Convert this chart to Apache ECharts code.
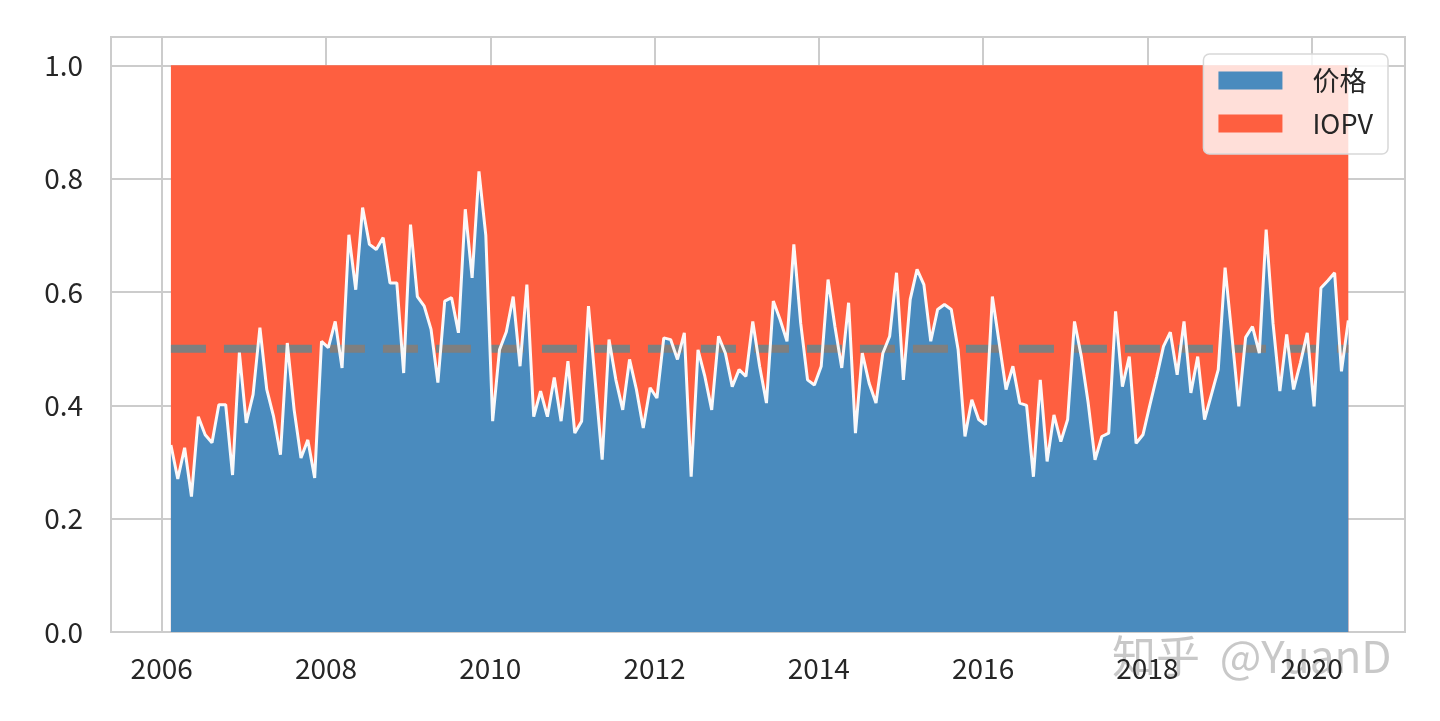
<!DOCTYPE html>
<html>
<head>
<meta charset="utf-8">
<script src="https://cdn.jsdelivr.net/npm/echarts@6/dist/echarts.min.js"></script>
<style>html,body{margin:0;padding:0;background:#fff}#c{width:1440px;height:721px}</style>
</head>
<body>
<div id="c"></div>
<script>
// monthly series, first month = 2006-02
const startYear = 2006;
const startMonth = 2;
// share of 价格 (blue band); IOPV share is the remainder up to 1.0
const price = [
  0.33, 0.27, 0.325, 0.239, 0.380, 0.348, 0.334, 0.401, 0.401, 0.277, 0.493, 0.369, 0.419, 0.537, 0.428, 0.380,
  0.313, 0.510, 0.392, 0.307, 0.339, 0.272, 0.513, 0.502, 0.548, 0.466, 0.701, 0.604, 0.749, 0.684, 0.675,
  0.696, 0.616, 0.616, 0.457, 0.719, 0.592, 0.575, 0.534, 0.440, 0.584, 0.590, 0.528, 0.746, 0.625, 0.813, 0.70,
  0.372, 0.498, 0.53, 0.592, 0.469, 0.613, 0.380, 0.425, 0.380, 0.449, 0.372, 0.478, 0.351, 0.372, 0.575,
  0.44, 0.304, 0.516, 0.445, 0.392, 0.481, 0.428, 0.360, 0.431, 0.413, 0.519, 0.516, 0.481, 0.528, 0.274, 0.498,
  0.451, 0.392, 0.522, 0.492, 0.433, 0.463, 0.451, 0.548, 0.469, 0.404, 0.584, 0.551, 0.513, 0.684, 0.545,
  0.445, 0.436, 0.469, 0.622, 0.539, 0.466, 0.581, 0.351, 0.492, 0.439, 0.404, 0.492, 0.522, 0.634, 0.445, 0.587,
  0.640, 0.613, 0.513, 0.569, 0.578, 0.569, 0.498, 0.345, 0.410, 0.375, 0.366, 0.592, 0.510, 0.428, 0.469,
  0.404, 0.40, 0.274, 0.445, 0.301, 0.383, 0.336, 0.375, 0.548, 0.486, 0.404, 0.304, 0.345, 0.351, 0.566, 0.433,
  0.486, 0.333, 0.348, 0.40, 0.45, 0.504, 0.529, 0.454, 0.548, 0.422, 0.486, 0.375, 0.419, 0.463,
  0.643, 0.522, 0.398, 0.52, 0.539, 0.492, 0.710, 0.545, 0.425, 0.525, 0.428, 0.475, 0.528, 0.398, 0.607, 0.62,
  0.634, 0.460, 0.55
];
const total = 1.0;
const xTickYears = [2006, 2008, 2010, 2012, 2014, 2016, 2018, 2020];
const refLevel = 0.5;
const seriesNames = ['价格', 'IOPV'];
const watermark = '知乎  @YuanD';

const BLUE = '#4a8bbe';
const RED = '#fe5f40';
const FONT = "'Noto Sans CJK SC', 'Noto Sans', sans-serif";

// decimal-year position of each monthly observation
const xs = price.map((_, i) => {
  const m = startMonth - 1 + i;
  const y = startYear + Math.floor(m / 12);
  return y + ((m % 12) + 0.35) / 12;
});
const pricePts = xs.map((x, i) => [x, price[i]]);
// IOPV band sits on top of the price band and reaches the total (1.0)
const iopvTopPts = xs.map(x => [x, total]);
const refPts = [[xs[0], refLevel], [xs[xs.length - 1], refLevel]];

const chart = echarts.init(document.getElementById('c'), null, { renderer: 'canvas' });
chart.setOption({
  animation: false,
  backgroundColor: '#ffffff',
  grid: {
    left: 111, top: 37, right: 35, bottom: 89,
    show: true, borderColor: '#cccccc', borderWidth: 2, backgroundColor: 'transparent'
  },
  legend: {
    orient: 'vertical',
    right: 52, top: 54,
    padding: [13, 15, 17, 15],
    itemGap: 16,
    itemWidth: 64, itemHeight: 18,
    backgroundColor: 'rgba(255,255,255,0.8)',
    borderColor: '#d8d8d8', borderWidth: 1.5, borderRadius: 6,
    textStyle: { fontFamily: FONT, fontSize: 27, color: '#262626', padding: [0, 0, 0, 25] },
    data: [
      { name: seriesNames[0], icon: 'rect', itemStyle: { color: BLUE } },
      { name: seriesNames[1], icon: 'rect', itemStyle: { color: RED } }
    ]
  },
  xAxis: {
    type: 'value',
    min: 2005.383, max: 2021.136,
    axisLine: { show: false },
    axisTick: { show: false, customValues: xTickYears },
    axisLabel: {
      customValues: xTickYears,
      margin: 22,
      fontFamily: FONT, fontSize: 28, color: '#262626',
      formatter: v => String(Math.round(v))
    },
    splitLine: { show: true, lineStyle: { color: '#cccccc', width: 2 } }
  },
  yAxis: {
    type: 'value',
    min: 0, max: 1.05, interval: 0.2,
    axisLine: { show: false },
    axisTick: { show: false },
    axisLabel: {
      showMaxLabel: false,
      margin: 28,
      fontFamily: FONT, fontSize: 28, color: '#262626',
      formatter: v => v.toFixed(1)
    },
    splitLine: { show: true, lineStyle: { color: '#cccccc', width: 2 } }
  },
  graphic: [{
    type: 'text', left: 1112, top: 634, z: 0, silent: true,
    style: { text: watermark, font: "44px 'Noto Sans CJK SC', sans-serif", fill: 'rgba(170,170,170,0.65)' }
  }],
  series: [
    {
      name: seriesNames[1], type: 'line', data: iopvTopPts,
      showSymbol: false, symbol: 'none', z: 1,
      itemStyle: { color: RED },
      lineStyle: { width: 0, color: RED },
      areaStyle: { color: RED, opacity: 1 }
    },
    {
      name: seriesNames[0], type: 'line', data: pricePts,
      showSymbol: false, symbol: 'none', z: 2,
      itemStyle: { color: BLUE },
      lineStyle: { width: 0, color: BLUE },
      areaStyle: { color: BLUE, opacity: 1 }
    },
    {
      name: 'ref', type: 'line', data: refPts, silent: true,
      showSymbol: false, symbol: 'none', z: 3,
      lineStyle: { color: '#7f7f7f', width: 8, type: [35, 18], cap: 'butt' }
    },
    {
      name: 'priceLine', type: 'line', data: pricePts, silent: true,
      showSymbol: false, symbol: 'none', z: 4,
      lineStyle: { color: '#ffffff', width: 3, opacity: 0.95 }
    }
  ]
});
</script>
</body>
</html>
